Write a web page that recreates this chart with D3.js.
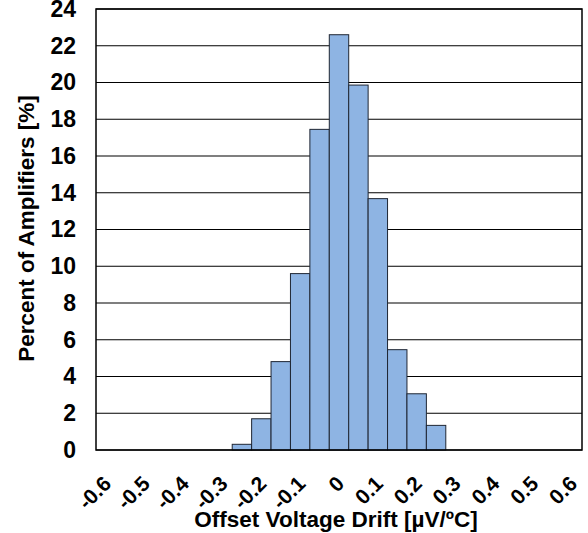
<!DOCTYPE html>
<html>
<head>
<meta charset="utf-8">
<script src="https://cdn.jsdelivr.net/npm/d3@7"></script>
<style>
  body { margin: 0; background: #fff; }
  svg { display: block; font-family: "Liberation Sans", Arial, sans-serif; font-weight: bold; }
</style>
</head>
<body>
<div id="chart"><svg></svg></div>
<script>
// bin centres [µV/ºC] and share of amplifiers [%]
const binCenters = [-0.25, -0.2, -0.15, -0.1, -0.05, 0, 0.05, 0.1, 0.15, 0.2, 0.25]
const percents = [0.31, 1.7, 4.81, 9.6, 17.45, 22.6, 19.86, 13.68, 5.46, 3.06, 1.34]
const binWidth = 0.05
const xTicks = [-0.6, -0.5, -0.4, -0.3, -0.2, -0.1, 0, 0.1, 0.2, 0.3, 0.4, 0.5, 0.6]
const yTicks = [0, 2, 4, 6, 8, 10, 12, 14, 16, 18, 20, 22, 24]

const width = 588
const height = 533
const plotLeft = 96
const plotRight = 582
const plotTop = 9
const plotBottom = 450
const pad = 10

const svg = d3.select("#chart svg").attr("width", width).attr("height", height)

const x = d3.scaleLinear().domain([-0.6, 0.6]).range([plotLeft + pad, plotRight - pad])
const y = d3.scaleLinear().domain([0, 24]).range([plotBottom, plotTop])

// gridlines
svg.append("g")
  .selectAll("line")
  .data(yTicks)
  .join("line")
  .attr("x1", plotLeft)
  .attr("x2", plotRight)
  .attr("y1", (d) => y(d))
  .attr("y2", (d) => y(d))
  .attr("stroke", "#000")
  .attr("stroke-width", 1.2)

// bars
svg.append("g")
  .selectAll("rect")
  .data(binCenters)
  .join("rect")
  .attr("x", (d) => x(d - binWidth / 2))
  .attr("y", (d, i) => y(percents[i]))
  .attr("width", (d) => x(d + binWidth / 2) - x(d - binWidth / 2))
  .attr("height", (d, i) => plotBottom - y(percents[i]))
  .attr("fill", "#8eb4e3")
  .attr("stroke", "#1f2633")
  .attr("stroke-width", 1)

// frame
svg.append("rect")
  .attr("x", plotLeft)
  .attr("y", plotTop)
  .attr("width", plotRight - plotLeft)
  .attr("height", plotBottom - plotTop)
  .attr("fill", "none")
  .attr("stroke", "#000")
  .attr("stroke-width", 1.5)

// y axis
const yAxis = svg.append("g")
  .attr("transform", `translate(${plotLeft}, 0)`)
  .call(d3.axisLeft(y).tickValues(yTicks).tickSize(0).tickPadding(20))
yAxis.select(".domain").remove()
yAxis.selectAll("text")
  .attr("font-size", 23)
  .attr("font-family", "Liberation Sans, Arial, sans-serif")
  .attr("font-weight", "bold")
  .attr("fill", "#000")

// x axis, rotated labels
const xAxis = svg.append("g")
  .attr("transform", `translate(0, ${plotBottom})`)
  .call(d3.axisBottom(x).tickValues(xTicks).tickSize(0).tickFormat((d) => String(d)))
xAxis.select(".domain").remove()
xAxis.selectAll("text")
  .attr("font-size", 21)
  .attr("font-family", "Liberation Sans, Arial, sans-serif")
  .attr("font-weight", "bold")
  .attr("fill", "#000")
  .attr("text-anchor", "end")
  .attr("y", 0)
  .attr("dy", 0)
  .attr("transform", "translate(6, 35) rotate(-45)")

// axis titles
svg.append("text")
  .attr("x", (plotLeft + plotRight) / 2 - 3)
  .attr("y", 527)
  .attr("text-anchor", "middle")
  .attr("font-size", 22.5)
  .text("Offset Voltage Drift [µV/ºC]")

svg.append("text")
  .attr("transform", `translate(34, ${(plotTop + plotBottom) / 2 - 1}) rotate(-90)`)
  .attr("text-anchor", "middle")
  .attr("font-size", 22.5)
  .text("Percent of Amplifiers [%]")
</script>
</body>
</html>
